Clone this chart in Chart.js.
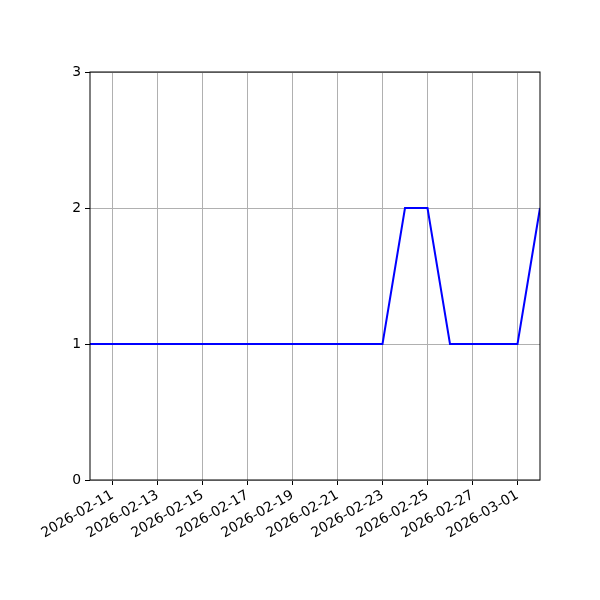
<!DOCTYPE html>
<html>
<head>
<meta charset="utf-8">
<script src="https://cdn.jsdelivr.net/npm/chart.js@4"></script>
<style>
  html, body { margin: 0; padding: 0; background: #fff; }
  #wrap { width: 600px; height: 600px; }
</style>
</head>
<body>
<div id="wrap"><canvas id="c" width="600" height="600"></canvas></div>
<script>
const dates = [
  '2026-02-10', '2026-02-11', '2026-02-12', '2026-02-13', '2026-02-14',
  '2026-02-15', '2026-02-16', '2026-02-17', '2026-02-18', '2026-02-19',
  '2026-02-20', '2026-02-21', '2026-02-22', '2026-02-23', '2026-02-24',
  '2026-02-25', '2026-02-26', '2026-02-27', '2026-02-28', '2026-03-01',
  '2026-03-02'
];
const counts = [1, 1, 1, 1, 1, 1, 1, 1, 1, 1, 1, 1, 1, 1, 2, 2, 1, 1, 1, 1, 2];
const xTickDates = [
  '2026-02-11', '2026-02-13', '2026-02-15', '2026-02-17', '2026-02-19',
  '2026-02-21', '2026-02-23', '2026-02-25', '2026-02-27', '2026-03-01'
];
const yTicks = [0, 1, 2, 3];

const font = { family: 'DejaVu Sans', size: 13.9 };

// frame around the plot area, like matplotlib spines
const frame = {
  id: 'frame',
  afterDraw(chart) {
    const { ctx, chartArea: a } = chart;
    ctx.save();
    ctx.strokeStyle = '#000';
    ctx.lineWidth = 1;
    ctx.strokeRect(a.left, a.top, a.right - a.left, a.bottom - a.top);
    ctx.restore();
  }
};

new Chart(document.getElementById('c').getContext('2d'), {
  type: 'line',
  data: {
    datasets: [{
      data: counts.map((v, i) => ({ x: i, y: v })),
      borderColor: '#0000ff',
      borderWidth: 2,
      pointRadius: 0,
      tension: 0,
      fill: false
    }]
  },
  options: {
    responsive: false,
    animation: false,
    events: [],
    layout: { padding: { top: 72, right: 60, left: 0, bottom: 0 } },
    plugins: { legend: { display: false }, tooltip: { enabled: false } },
    scales: {
      x: {
        type: 'linear',
        min: 0,
        max: dates.length - 1,
        afterBuildTicks(scale) {
          scale.ticks = xTickDates.map(d => ({ value: dates.indexOf(d) }));
        },
        afterFit(scale) { scale.height = 120; },
        grid: { color: '#b0b0b0', lineWidth: 1, tickColor: '#000', tickLength: 5 },
        border: { display: false },
        ticks: {
          font,
          color: '#000',
          maxRotation: 30,
          minRotation: 30,
          autoSkip: false,
          padding: 2,
          callback: v => dates[v]
        }
      },
      y: {
        min: 0,
        max: 3,
        afterBuildTicks(scale) {
          scale.ticks = yTicks.map(v => ({ value: v }));
        },
        afterFit(scale) { scale.width = 90; },
        grid: { color: '#b0b0b0', lineWidth: 1, tickColor: '#000', tickLength: 5 },
        border: { display: false },
        ticks: { font, color: '#000', padding: 4, callback: v => String(v) }
      }
    }
  },
  plugins: [frame]
});
</script>
</body>
</html>
